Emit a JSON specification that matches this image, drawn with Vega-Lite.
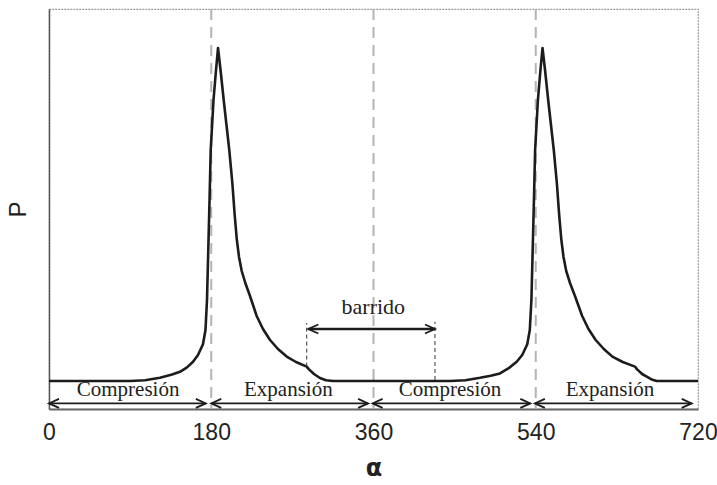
{
  "$schema": "https://vega.github.io/schema/vega-lite/v6.json",
  "width": 649,
  "height": 400,
  "autosize": "none",
  "padding": {"left": 49, "top": 9, "right": 19, "bottom": 76},
  "background": "white",
  "view": {"stroke": "#9a9a9a", "strokeDash": [2, 1], "strokeWidth": 1.2},
  "config": {
    "font": "Liberation Sans",
    "axisX": {"grid": false, "ticks": false, "labelFlush": false, "labelFontSize": 23, "labelColor": "#222", "labelPadding": 12, "domainColor": "#666", "domainWidth": 2, "titleFontSize": 24, "titleFontWeight": "bold", "titleColor": "#222", "titleY": 59, "titleBaseline": "middle", "labelFont": "Liberation Sans", "titleFont": "DejaVu Sans"},
    "axisY": {"grid": false, "ticks": false, "labels": false, "domainColor": "#555", "domainWidth": 1.5, "titleFontSize": 24, "titleFontWeight": "normal", "titleColor": "#222", "titleX": -31, "titleY": 200, "titleAlign": "center", "titleBaseline": "middle", "titleFont": "Liberation Sans"}
  },
  "datasets": {
    "curve": [
      {"a": 0, "p": 7.0}, {"a": 89.9, "p": 7.0}, {"a": 106.5, "p": 7.2}, {"a": 123.1, "p": 7.8}, {"a": 136.5, "p": 8.6},
      {"a": 145.3, "p": 9.3}, {"a": 153.1, "p": 10.4}, {"a": 159.8, "p": 11.8}, {"a": 165.3, "p": 13.5},
      {"a": 170.8, "p": 16.2}, {"a": 173.6, "p": 19.75}, {"a": 175.3, "p": 27.3}, {"a": 176.7, "p": 39.75},
      {"a": 178.1, "p": 52.25}, {"a": 179.4, "p": 64.75}, {"a": 182.5, "p": 77.25}, {"a": 185.3, "p": 84.75},
      {"a": 187.5, "p": 90.25},
      {"a": 190.3, "p": 84.75}, {"a": 193.8, "p": 77.25}, {"a": 196.9, "p": 71}, {"a": 200.0, "p": 64.75},
      {"a": 203.4, "p": 56.5}, {"a": 206.0, "p": 48.5}, {"a": 208.3, "p": 42.5}, {"a": 210.8, "p": 38.0},
      {"a": 213.8, "p": 34.5}, {"a": 217.8, "p": 31.5}, {"a": 223.0, "p": 28.25}, {"a": 230.4, "p": 23.25},
      {"a": 237.4, "p": 20}, {"a": 245.2, "p": 17.25}, {"a": 254.0, "p": 15}, {"a": 263.7, "p": 13.1},
      {"a": 274.0, "p": 11.75}, {"a": 285.9, "p": 10.6}, {"a": 288.4, "p": 9.9}, {"a": 294.0, "p": 8.75},
      {"a": 300.6, "p": 7.75}, {"a": 307.3, "p": 7.2}, {"a": 315.1, "p": 7.0},
      {"a": 444.9, "p": 7.0}, {"a": 462, "p": 7.2}, {"a": 478.2, "p": 7.8}, {"a": 490, "p": 8.3},
      {"a": 500.3, "p": 8.9}, {"a": 510, "p": 10.2}, {"a": 518.9, "p": 11.8}, {"a": 525, "p": 13.5},
      {"a": 530.6, "p": 16.2}, {"a": 533.4, "p": 19.75}, {"a": 535.2, "p": 27.3}, {"a": 536.6, "p": 39.75},
      {"a": 538, "p": 52.25}, {"a": 539.3, "p": 64.75}, {"a": 542.4, "p": 77.25}, {"a": 545.2, "p": 84.75},
      {"a": 547.5, "p": 90.25},
      {"a": 550.3, "p": 84.75}, {"a": 553.8, "p": 77.25}, {"a": 556.9, "p": 71}, {"a": 560, "p": 64.75},
      {"a": 563.4, "p": 56.5}, {"a": 566.0, "p": 48.5}, {"a": 568.3, "p": 42.5}, {"a": 570.8, "p": 38.0},
      {"a": 573.8, "p": 34.5}, {"a": 578.0, "p": 31.5}, {"a": 583.5, "p": 28.25}, {"a": 591.5, "p": 23.25},
      {"a": 598.5, "p": 20}, {"a": 606.5, "p": 17.25}, {"a": 615.5, "p": 15}, {"a": 625, "p": 13.1},
      {"a": 636.5, "p": 11.75}, {"a": 650.1, "p": 10.6}, {"a": 652.5, "p": 9.9}, {"a": 658, "p": 8.75},
      {"a": 663.1, "p": 8.1}, {"a": 668.5, "p": 7.4}, {"a": 674.2, "p": 7.0}, {"a": 720, "p": 7.0}
    ],
    "guides": [{"a": 180}, {"a": 360}, {"a": 540}],
    "spans": [
      {"a": 0, "a2": 174, "p": 1.4, "w": "thin"},
      {"a": 180, "a2": 354, "p": 1.4, "w": "thin"},
      {"a": 359, "a2": 534, "p": 1.4, "w": "thin"},
      {"a": 539, "a2": 713, "p": 1.4, "w": "thin"},
      {"a": 287.7, "a2": 428.2, "p": 20, "w": "thick"}
    ],
    "heads": [
      {"a": 0, "p": 1.4, "dir": "left"}, {"a": 174, "p": 1.4, "dir": "right"},
      {"a": 180, "p": 1.4, "dir": "left"}, {"a": 354, "p": 1.4, "dir": "right"},
      {"a": 359, "p": 1.4, "dir": "left"}, {"a": 534, "p": 1.4, "dir": "right"},
      {"a": 539, "p": 1.4, "dir": "left"}, {"a": 713, "p": 1.4, "dir": "right"},
      {"a": 287.7, "p": 20, "dir": "left"}, {"a": 428.2, "p": 20, "dir": "right"}
    ],
    "ticks": [
      {"a": 285.9, "p": 10.6, "p2": 21.5},
      {"a": 428.2, "p": 7.25, "p2": 21.8}
    ],
    "labels": [
      {"a": 87.7, "p": 4.75, "t": "Compresión", "s": "phase"},
      {"a": 265.5, "p": 4.75, "t": "Expansión", "s": "phase"},
      {"a": 444.9, "p": 4.75, "t": "Compresión", "s": "phase"},
      {"a": 622.4, "p": 4.75, "t": "Expansión", "s": "phase"},
      {"a": 359.8, "p": 25.5, "t": "barrido", "s": "sweep"}
    ]
  },
  "layer": [
    {
      "data": {"name": "guides"},
      "mark": {"type": "rule", "color": "#b4b4b4", "strokeWidth": 2, "strokeDash": [11, 7]},
      "encoding": {
        "x": {"field": "a", "type": "quantitative", "title": "α", "scale": {"domain": [0, 720], "nice": false, "zero": false}, "axis": {"values": [0, 180, 360, 540, 720]}}
      }
    },
    {
      "data": {"name": "curve"},
      "mark": {"type": "line", "color": "#1c1c1c", "strokeWidth": 2.6, "strokeJoin": "round"},
      "encoding": {
        "x": {"field": "a", "type": "quantitative", "title": "α"},
        "y": {"field": "p", "type": "quantitative", "title": "P", "scale": {"domain": [0, 100], "nice": false, "zero": false}}
      }
    },
    {
      "data": {"name": "ticks"},
      "mark": {"type": "rule", "color": "#333", "strokeWidth": 1, "strokeDash": [4, 3]},
      "encoding": {
        "x": {"field": "a", "type": "quantitative", "title": "α"},
        "y": {"field": "p", "type": "quantitative", "title": "P"},
        "y2": {"field": "p2"}
      }
    },
    {
      "data": {"name": "spans"},
      "mark": {"type": "rule", "color": "#1c1c1c"},
      "encoding": {
        "x": {"field": "a", "type": "quantitative", "title": "α"},
        "x2": {"field": "a2"},
        "y": {"field": "p", "type": "quantitative", "title": "P"},
        "strokeWidth": {"field": "w", "type": "nominal", "scale": {"domain": ["thin", "thick"], "range": [1.6, 2.6]}, "legend": null}
      }
    },
    {
      "data": {"name": "heads"},
      "mark": {"type": "point", "filled": false, "color": "#1c1c1c", "strokeWidth": 1.8, "size": 400, "opacity": 1},
      "encoding": {
        "x": {"field": "a", "type": "quantitative", "title": "α"},
        "y": {"field": "p", "type": "quantitative", "title": "P"},
        "shape": {"field": "dir", "type": "nominal", "scale": {"domain": ["left", "right"], "range": ["M1,-0.45L0,0L1,0.45", "M-1,-0.45L0,0L-1,0.45"]}, "legend": null}
      }
    },
    {
      "data": {"name": "labels"},
      "mark": {"type": "text", "font": "Liberation Serif", "color": "#222", "align": "center", "baseline": "middle"},
      "encoding": {
        "x": {"field": "a", "type": "quantitative", "title": "α"},
        "y": {"field": "p", "type": "quantitative", "title": "P"},
        "text": {"field": "t", "type": "nominal"},
        "size": {"field": "s", "type": "nominal", "scale": {"domain": ["phase", "sweep"], "range": [21, 22]}, "legend": null}
      }
    }
  ]
}
